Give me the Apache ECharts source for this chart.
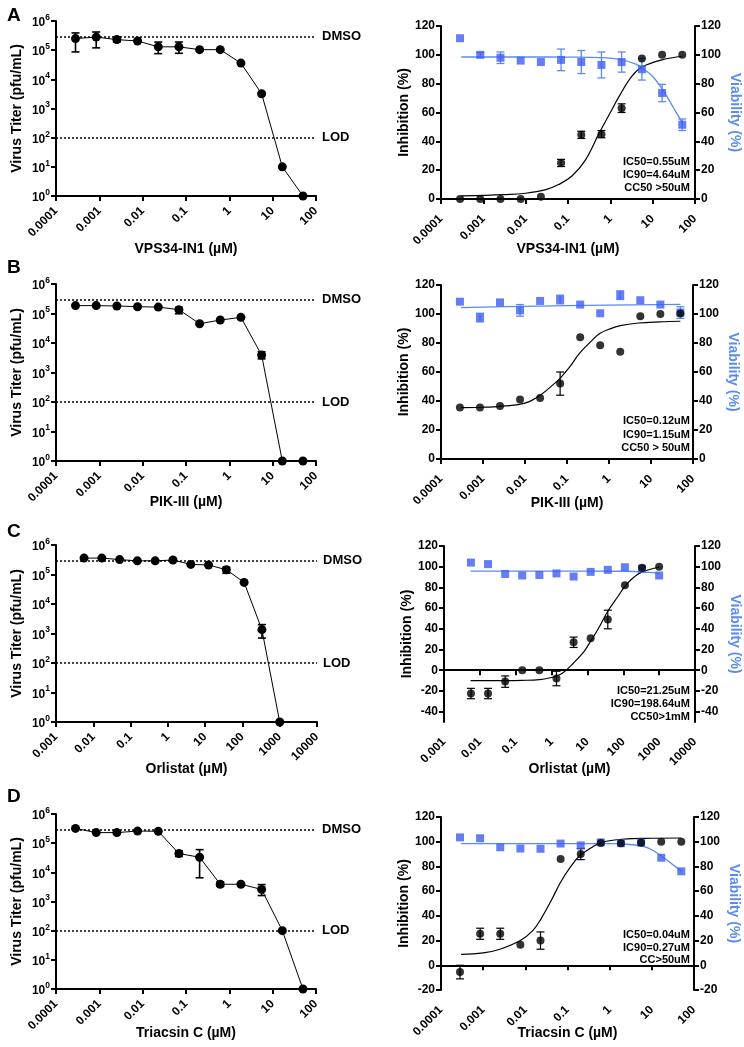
<!DOCTYPE html>
<html><head><meta charset="utf-8">
<script src="https://cdn.jsdelivr.net/npm/echarts@6/dist/echarts.min.js"></script>
<style>html,body{margin:0;padding:0;background:#fff}#c{width:744px;height:1047px}</style>
</head><body><div id="c"></div>
<script>
// ================= DATA =================
const doses50 = [0.000282, 0.000847, 0.00254, 0.00762, 0.0229, 0.0686, 0.206, 0.617, 1.85, 5.56, 16.7, 50];
const doses1000 = [0.00565, 0.0169, 0.0508, 0.152, 0.457, 1.37, 4.12, 12.3, 37, 111, 333, 1000];
const xTicks4to2 = ['0.0001', '0.001', '0.01', '0.1', '1', '10', '100'];
const xTicks3to4 = ['0.001', '0.01', '0.1', '1', '10', '100', '1000', '10000'];
const dmso = 3e5, lod = 100;

// Panel A (VPS34-IN1)
const titerA = [2.5e5, 2.8e5, 2.3e5, 2.06e5, 1.3e5, 1.3e5, 1.04e5, 1.04e5, 3.6e4, 3.2e3, 10, 1];
const titerLoA = [8.7e4, 1.2e5, 1.9e5, null, 7.6e4, 7.8e4, null, null, null, null, null, null];
const titerHiA = [3.9e5, 4.2e5, 2.8e5, null, 1.9e5, 1.9e5, null, null, null, null, null, null];
const inhA = [0, 0, 0, 0, 1.5, 25, 44.5, 45, 63, 97.5, 100, 100];
const inhErrA = [0, 0, 0, 0, 0, 2.5, 2.5, 2.5, 3, 0, 0, 0];
const viaA = [111.5, 100, 98, 96, 95, 96.5, 95, 93, 95, 90, 73.5, 51.5];
const viaErrA = [0, 1.5, 4, 0, 0, 7.5, 8, 9, 7, 7.5, 6, 4];
const fitInhXA = [0.0003, 0.001, 0.003, 0.01, 0.03, 0.06, 0.124, 0.257, 0.53, 1, 1.6, 3.2, 5.6, 16.6, 50];
const fitInhYA = [2.2, 2.5, 3, 4, 6.5, 10, 16, 27, 45, 60, 71, 85, 91.5, 96.5, 99];
const fitViaXA = [0.0003, 0.01, 0.1, 0.6, 1.9, 4, 5.9, 10, 17.6, 30, 51];
const fitViaYA = [98.5, 98.5, 98.4, 98, 96.5, 93.5, 90.5, 85, 75.5, 64, 52.5];
const notesA = ['IC50=0.55uM', 'IC90=4.64uM', 'CC50 >50uM'];

// Panel B (PIK-III)
const titerB = [1.85e5, 1.85e5, 1.8e5, 1.7e5, 1.65e5, 1.35e5, 4.5e4, 6e4, 7.4e4, 3.9e3, 1, 1];
const titerLoB = [null, null, null, null, null, 9.8e4, null, null, null, 2.9e3, null, null];
const titerHiB = [null, null, null, null, null, 1.6e5, null, null, null, 5e3, null, null];
const inhB = [35.5, 35.5, 36.5, 41, 42, 52, 84, 78.5, 74, 98.5, 100, 100.3];
const inhErrB = [0, 0, 0, 0, 0, 8, 0, 0, 0, 0, 0, 0];
const viaB = [108.5, 97.5, 108, 102.5, 109, 110, 106.5, 100.5, 113, 109.5, 106.5, 101];
const viaErrB = [0, 3, 0, 4, 0, 3, 0, 0, 3, 0, 0, 4];
const fitInhXB = [0.0003, 0.001, 0.003, 0.01, 0.023, 0.05, 0.07, 0.12, 0.2, 0.4, 0.6, 1, 1.85, 5, 16, 50];
const fitInhYB = [35.5, 35.7, 36.5, 38.5, 44, 52, 56, 64, 73, 82, 86.5, 89.5, 92, 93.8, 94.6, 95];
const fitViaXB = [0.0003, 0.01, 1, 50];
const fitViaYB = [104.4, 105.3, 106.1, 106.7];
const notesB = ['IC50=0.12uM', 'IC90=1.15uM', 'CC50 > 50uM'];

// Panel C (Orlistat)
const titerC = [3.6e5, 3.6e5, 3.2e5, 2.9e5, 2.9e5, 3.1e5, 2.2e5, 2.1e5, 1.45e5, 5.4e4, 1.35e3, 1];
const titerLoC = [null, null, null, null, null, null, null, null, 1.1e5, null, 7e2, null];
const titerHiC = [null, null, null, null, null, null, null, null, 1.75e5, null, 2e3, null];
const inhC = [-22.5, -22.5, -11, 0, 0, -8, 27, 31, 49, 82, 99, 100];
const inhErrC = [5, 5, 5.5, 0, 0, 7, 5, 0, 9, 0, 0, 0];
const viaC = [104, 102.5, 93, 91.5, 92, 93.5, 90.5, 95, 97, 99.5, 98, 91.5];
const viaErrC = [0, 0, 0, 0, 0, 0, 0, 0, 0, 0, 0, 0];
const fitInhXC = [0.0055, 0.05, 0.15, 0.46, 1, 1.37, 2, 4.1, 8, 12.3, 20, 37, 70, 111, 200, 333, 1000];
const fitInhYC = [-10, -10, -9.8, -9, -7, -5.5, -3, 7, 18, 28, 40, 57, 71, 81, 90, 95, 99.5];
const fitViaXC = [0.0055, 10, 100, 330, 1000];
const fitViaYC = [95.8, 95.8, 95.6, 95, 93.5];
const notesC = ['IC50=21.25uM', 'IC90=198.64uM', 'CC50>1mM'];

// Panel D (Triacsin C)
const titerD = [3.2e5, 2.3e5, 2.3e5, 2.6e5, 2.55e5, 4.4e4, 3.3e4, 3.9e3, 3.9e3, 2.6e3, 100, 1];
const titerLoD = [null, null, null, null, null, 3.5e4, 6.5e3, 3.3e3, null, 1.6e3, null, null];
const titerHiD = [null, null, null, null, null, 5.5e4, 6e4, 4.7e3, null, 3.8e3, null, null];
const inhD = [-5.5, 25.5, 25.5, 16.7, 20, 86, 90, 99, 98.8, 99.2, 100, 100];
const inhErrD = [5.5, 4.5, 4.5, 0, 7, 0, 4.5, 0, 0, 0, 0, 0];
const viaD = [103.5, 102.8, 95.5, 94.5, 94.3, 98.5, 97, 99.5, 98.8, 99.3, 87, 76];
const viaErrD = [0, 0, 0, 0, 0, 0, 0, 0, 0, 0, 0, 0];
const fitInhXD = [0.0003, 0.001, 0.0025, 0.0076, 0.015, 0.023, 0.042, 0.068, 0.12, 0.2, 0.4, 0.65, 2, 10, 50];
const fitInhYD = [8.9, 10, 13, 20, 28, 37, 53, 67, 80, 89, 96, 99.5, 102, 102.8, 103];
const fitViaXD = [0.0003, 0.1, 1, 2, 5.9, 10, 17.6, 30, 51];
const fitViaYD = [98.5, 98.5, 98.5, 98.2, 96.5, 93.5, 88, 82, 76];
const notesD = ['IC50=0.04uM', 'IC90=0.27uM', 'CC>50uM'];

// ================= CHART =================
const FONT = '"Liberation Sans", Arial, Helvetica, sans-serif';
const BLUE_PT = '#3F5EF3';
const BLUE_LN = '#5A8CF0';
const chart = echarts.init(document.getElementById('c'), null, {renderer: 'canvas'});

const grids = [], xAxes = [], yAxes = [], series = [], graphics = [];

function zip(xs, ys) { return xs.map((x, i) => [x, ys[i]]); }
function errRender(color, cap, lw) {
  return function (params, api) {
    const x = api.value(0), lo = api.value(1), hi = api.value(2);
    const p1 = api.coord([x, lo]), p2 = api.coord([x, hi]);
    const style = {stroke: color, lineWidth: lw};
    return {type: 'group', children: [
      {type: 'line', shape: {x1: p1[0], y1: p1[1], x2: p2[0], y2: p2[1]}, style},
      {type: 'line', shape: {x1: p1[0] - cap, y1: p1[1], x2: p1[0] + cap, y2: p1[1]}, style},
      {type: 'line', shape: {x1: p2[0] - cap, y1: p2[1], x2: p2[0] + cap, y2: p2[1]}, style}
    ]};
  };
}
const axisLine = {lineStyle: {color: '#000', width: 2}};
const axisTick = {length: 5, lineStyle: {color: '#000', width: 2}};
const lblBase = {color: '#000', fontWeight: 'bold', fontFamily: FONT, fontSize: 12};
const nameStyle = {color: '#000', fontWeight: 'bold', fontFamily: FONT, fontSize: 14};

function addGrid(g) { grids.push(Object.assign({outerBoundsMode: 'none', containLabel: false}, g)); }

function logX(gi, minExp, maxExp, labels, name, gap, margin) {
  xAxes.push({
    type: 'log', logBase: 10, gridIndex: gi, min: Math.pow(10, minExp), max: Math.pow(10, maxExp), interval: 1,
    axisLine, axisTick, splitLine: {show: false}, minorTick: {show: false},
    axisLabel: Object.assign({}, lblBase, {rotate: 45, margin: margin,
      formatter: v => labels[Math.round(Math.log10(v)) - minExp]}),
    name, nameLocation: 'middle', nameGap: gap, nameMoveOverlap: false, nameTextStyle: nameStyle
  });
  return xAxes.length - 1;
}

function leftPanel(gi, grid, doses, titer, lo, hi, minExp, maxExp, labels, xname, xgap) {
  addGrid(grid);
  const xi = logX(gi, minExp, maxExp, labels, xname, xgap, 13);
  yAxes.push({
    type: 'log', logBase: 10, gridIndex: gi, min: 1, max: 1e6, interval: 1,
    axisLine, axisTick, splitLine: {show: false}, minorTick: {show: false},
    axisLabel: Object.assign({}, lblBase, {margin: 6,
      formatter: v => '{b|10}{s|' + Math.round(Math.log10(v)) + '}',
      rich: {b: {fontSize: 12, fontWeight: 'bold', fontFamily: FONT, color: '#000', lineHeight: 16, verticalAlign: 'bottom'},
             s: {fontSize: 8.5, fontWeight: 'bold', fontFamily: FONT, color: '#000', lineHeight: 16, verticalAlign: 'top'}}}),
    name: 'Virus Titer (pfu/mL)', nameLocation: 'middle', nameGap: 32, nameMoveOverlap: false, nameTextStyle: nameStyle
  });
  const yi = yAxes.length - 1;
  const errs = [];
  doses.forEach((d, i) => { if (lo[i] != null) errs.push([d, lo[i], hi[i]]); });
  series.push({type: 'custom', xAxisIndex: xi, yAxisIndex: yi, renderItem: errRender('#000', 4, 1.6),
    data: errs, encode: {x: 0, y: [1, 2]}, z: 3, silent: true});
  series.push({type: 'line', xAxisIndex: xi, yAxisIndex: yi, data: zip(doses, titer),
    symbol: 'circle', symbolSize: 9, itemStyle: {color: '#000'}, lineStyle: {color: '#000', width: 1}, z: 4,
    markLine: {silent: true, symbol: ['none', 'none'],
      lineStyle: {color: '#000', type: [2, 2], width: 1.5},
      label: {show: true, position: 'end', distance: 6, formatter: '{b}', color: '#000', fontWeight: 'bold', fontSize: 13, fontFamily: FONT},
      data: [{name: 'DMSO', yAxis: dmso}, {name: 'LOD', yAxis: lod}]}
  });
}

function rightPanel(gi, grid, doses, inh, inhErr, via, viaErr, fitIX, fitIY, fitVX, fitVY,
                    minExp, maxExp, labels, xname, xgap, ymin, ymax, ticks, zeroLine, notes, noteY) {
  addGrid(grid);
  const xi = logX(gi, minExp, maxExp, labels, xname, xgap, 18);
  const common = {type: 'value', gridIndex: gi, min: ymin, max: ymax, nameMoveOverlap: false,
    axisLine, axisTick: Object.assign({}, axisTick, {customValues: ticks}), splitLine: {show: false}};
  yAxes.push(Object.assign({}, common, {position: 'left',
    axisLabel: Object.assign({}, lblBase, {margin: 6, customValues: ticks}),
    name: 'Inhibition (%)', nameLocation: 'middle', nameGap: 30, nameTextStyle: nameStyle}));
  const yl = yAxes.length - 1;
  yAxes.push(Object.assign({}, common, {position: 'right',
    axisLabel: Object.assign({}, lblBase, {margin: 6, customValues: ticks}),
    name: 'Viability (%)', nameLocation: 'middle', nameGap: 33, nameRotate: -90,
    nameTextStyle: Object.assign({}, nameStyle, {color: BLUE_LN})}));
  const yr = yAxes.length - 1;

  series.push({type: 'line', xAxisIndex: xi, yAxisIndex: yr, data: zip(fitVX, fitVY), smooth: 0.4,
    symbol: 'none', lineStyle: {color: BLUE_LN, width: 1.3}, z: 2, silent: true});
  const inhLine = {type: 'line', xAxisIndex: xi, yAxisIndex: yl, data: zip(fitIX, fitIY), smooth: 0.4,
    symbol: 'none', lineStyle: {color: '#000', width: 1.2}, z: 2, silent: true};
  if (zeroLine) {
    inhLine.markLine = {silent: true, symbol: ['none', 'none'], label: {show: false},
      lineStyle: {color: '#000', type: [2, 2], width: 1.5}, data: [{yAxis: 0}]};
  }
  series.push(inhLine);
  const eI = [], eV = [];
  doses.forEach((d, i) => {
    if (inhErr[i]) eI.push([d, inh[i] - inhErr[i], inh[i] + inhErr[i]]);
    if (viaErr[i]) eV.push([d, via[i] - viaErr[i], via[i] + viaErr[i]]);
  });
  series.push({type: 'custom', xAxisIndex: xi, yAxisIndex: yr, renderItem: errRender(BLUE_LN, 4, 1.3),
    data: eV, encode: {x: 0, y: [1, 2]}, z: 3, silent: true});
  series.push({type: 'custom', xAxisIndex: xi, yAxisIndex: yl, renderItem: errRender('#000', 4, 1.2),
    data: eI, encode: {x: 0, y: [1, 2]}, z: 3, silent: true});
  series.push({type: 'scatter', xAxisIndex: xi, yAxisIndex: yr, data: zip(doses, via),
    symbol: 'rect', symbolSize: 8, itemStyle: {color: BLUE_PT}, z: 4});
  series.push({type: 'scatter', xAxisIndex: xi, yAxisIndex: yl, data: zip(doses, inh),
    symbol: 'circle', symbolSize: 8, itemStyle: {color: '#000'}, z: 5});
  notes.forEach((t, i) => graphics.push({type: 'text', x: 690, y: noteY[i], silent: true,
    style: {text: t, textAlign: 'right', textVerticalAlign: 'middle', fill: '#000',
      font: 'bold 11px ' + FONT}}));
}

const t0120 = [0, 20, 40, 60, 80, 100, 120];
leftPanel(0, {left: 56, top: 21, width: 260, height: 175}, doses50, titerA, titerLoA, titerHiA, -4, 2, xTicks4to2, 'VPS34-IN1 (\u00B5M)', 46);
rightPanel(1, {left: 441, top: 26, width: 254, height: 173}, doses50, inhA, inhErrA, viaA, viaErrA,
  fitInhXA, fitInhYA, fitViaXA, fitViaYA, -4, 2, xTicks4to2, 'VPS34-IN1 (\u00B5M)', 43, 0, 120, t0120, false, notesA, [162, 175, 188]);
leftPanel(2, {left: 56, top: 284, width: 260, height: 177}, doses50, titerB, titerLoB, titerHiB, -4, 2, xTicks4to2, 'PIK-III (\u00B5M)', 34);
rightPanel(3, {left: 441, top: 285, width: 252, height: 174}, doses50, inhB, inhErrB, viaB, viaErrB,
  fitInhXB, fitInhYB, fitViaXB, fitViaYB, -4, 2, xTicks4to2, 'PIK-III (\u00B5M)', 37, 0, 120, t0120, false, notesB, [421, 434.5, 448]);
leftPanel(4, {left: 56, top: 545, width: 261, height: 177}, doses1000, titerC, titerLoC, titerHiC, -3, 4, xTicks3to4, 'Orlistat (\u00B5M)', 40);
rightPanel(5, {left: 444, top: 546, width: 251, height: 176}, doses1000, inhC, inhErrC, viaC, viaErrC,
  fitInhXC, fitInhYC, fitViaXC, fitViaYC, -3, 4, xTicks3to4, 'Orlistat (\u00B5M)', 40, -50, 120, [-40, -20, 0, 20, 40, 60, 80, 100, 120], true, notesC, [691, 704, 717]);
leftPanel(6, {left: 56, top: 814, width: 260, height: 175}, doses50, titerD, titerLoD, titerHiD, -4, 2, xTicks4to2, 'Triacsin C (\u00B5M)', 37);
rightPanel(7, {left: 441, top: 817, width: 253, height: 173}, doses50, inhD, inhErrD, viaD, viaErrD,
  fitInhXD, fitInhYD, fitViaXD, fitViaYD, -4, 2, xTicks4to2, 'Triacsin C (\u00B5M)', 36, -20, 120, [-20, 0, 20, 40, 60, 80, 100, 120], true, notesD, [935, 947.5, 960]);

['A', 'B', 'C', 'D'].forEach((L, i) => graphics.push({type: 'text', x: 7, y: [6, 258, 522, 787][i], silent: true,
  style: {text: L, fill: '#000', font: 'bold 19px ' + FONT}}));

chart.setOption({
  animation: false,
  backgroundColor: '#fff',
  textStyle: {fontFamily: FONT},
  grid: grids, xAxis: xAxes, yAxis: yAxes, series, graphic: graphics
});
</script>
</body></html>
